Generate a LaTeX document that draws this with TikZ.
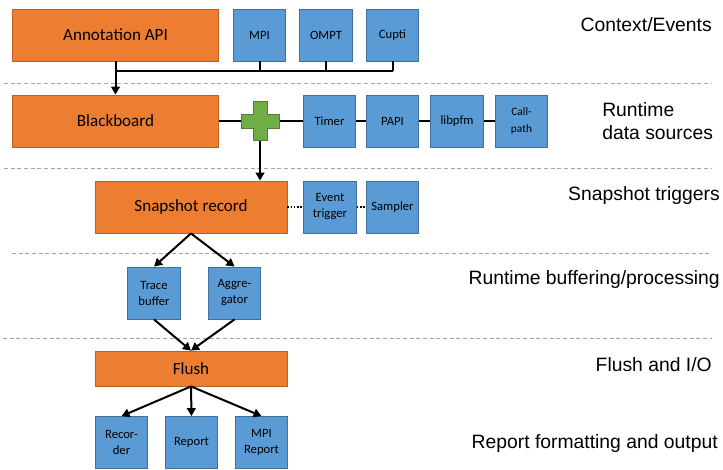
\documentclass[tikz,border=0pt]{standalone}
\usepackage{fontspec}
\setmainfont{Carlito}
\newfontfamily\labelfont{Liberation Sans}
\usetikzlibrary{arrows.meta,positioning}
\definecolor{BoxOrange}{RGB}{237,125,49}
\definecolor{OrangeEdge}{RGB}{190,95,35}
\definecolor{BoxBlue}{RGB}{91,155,213}
\definecolor{BlueEdge}{RGB}{65,113,156}
\definecolor{PlusGreen}{RGB}{112,173,71}
\definecolor{PlusEdge}{RGB}{80,126,50}
\definecolor{SepGray}{RGB}{165,165,165}

\tikzset{
  mainbox/.style={draw=OrangeEdge, fill=BoxOrange, line width=0.6pt, minimum width=155pt,
    minimum height=39pt, inner sep=0pt, font=\fontsize{12.8}{15}\selectfont},
  srcbox/.style={draw=BlueEdge, fill=BoxBlue, line width=0.6pt, minimum width=39.5pt,
    minimum height=39pt, inner sep=0pt, align=center, font=\fontsize{9.5}{12}\selectfont},
  conn/.style={line width=1.5pt},
  arr/.style={conn, -{Triangle[length=6pt,width=6.5pt]}},
  sep/.style={SepGray, line width=0.6pt, dash pattern=on 3pt off 2pt},
  layer/.style={font=\labelfont\fontsize{14.5}{17.5}\selectfont, inner sep=0pt, align=left},
}

\begin{document}
\begin{tikzpicture}[x=0.75pt, y=-0.75pt]
  \useasboundingbox (0,0) rectangle (723,469);

  % layer separators
  \draw[sep] (4,83) -- (712,83);
  \draw[sep] (4,168) -- (712,168);
  \draw[sep] (12,253) -- (710,253);
  \draw[sep] (3,338) -- (712,338);

  % context / events
  \node[mainbox] (ann) at (115.5,35) {Annotation API};
  \node[srcbox] (mpi) at (259.5,35) {MPI};
  \node[srcbox] (ompt) at (326,35) {OMPT};
  \node[srcbox] (cupti) at (392.5,35) {Cupti};

  % runtime data sources
  \node[mainbox] (bb) at (115.5,121) {Blackboard};
  \node[minimum size=29pt, inner sep=0pt] (plus) at (260,121) {};
  \node[srcbox] (timer) at (329.5,121) {Timer};
  \node[srcbox] (papi) at (392.5,121) {PAPI};
  \node[srcbox] (libpfm) at (457,121) {libpfm};
  \node[srcbox, font=\fontsize{8.5}{12.5}\selectfont] (callpath) at (521.5,121) {Call-\\path};

  % snapshot triggers
  \node[mainbox, minimum width=144pt] (snap) at (191,207) {Snapshot record};
  \node[srcbox] (evtrig) at (330,207) {Event\\trigger};
  \node[srcbox] (sampler) at (392.5,207) {Sampler};

  % buffering / processing
  \node[srcbox] (tbuf) at (154,293) {Trace\\buffer};
  \node[srcbox] (aggr) at (234.5,293) {Aggre-\\gator};

  % flush and output
  \node[mainbox, minimum width=144pt, minimum height=26.25pt] (flush) at (191,368.5) {Flush};
  \node[srcbox] (rec) at (121.5,442.5) {Recor-\\der};
  \node[srcbox] (rep) at (191.5,442.5) {Report};
  \node[srcbox] (mpirep) at (261.5,442.5) {MPI\\Report};

  % event bus
  \coordinate (bus) at (0,71);
  \draw[conn] (ann.south |- bus) -- (cupti.south |- bus);
  \foreach \n in {mpi,ompt,cupti}
    \draw[conn] (\n.south) -- (\n.south |- bus);
  \draw[arr] (ann) -- (bb);

  % data source chain
  \draw[conn] (bb.east) -- (timer.west);
  \draw[conn] (timer) -- (papi);
  \draw[conn] (papi) -- (libpfm);
  \draw[conn] (libpfm) -- (callpath);
  \draw[arr] (plus.center) -- (plus |- snap.north);
  \filldraw[fill=PlusGreen, draw=PlusEdge, line width=0.6pt, shift={(plus.center)}]
    (-19,-7) -- (-7,-7) -- (-7,-19.5) -- (7,-19.5) -- (7,-7) -- (19,-7)
    -- (19,7) -- (7,7) -- (7,19.5) -- (-7,19.5) -- (-7,7) -- (-19,7) -- cycle;

  % triggers
  \draw[line width=1.2pt, dash pattern=on 1.2pt off 1.2pt] (snap) -- (evtrig);
  \draw[line width=1.2pt, dash pattern=on 1.2pt off 1.2pt] (evtrig) -- (sampler);

  % record -> buffers -> flush -> reports
  \draw[arr] (snap.south) -- (tbuf.north);
  \draw[arr] (snap.south) -- (aggr.north);
  \draw[arr] (tbuf.south) -- (flush.north);
  \draw[arr] (aggr.south) -- (flush.north);
  \draw[arr] (flush.south) -- (rec.north);
  \draw[arr] (flush.south) -- (rep.north);
  \draw[arr] (flush.south) -- (mpirep.north);

  % layer names
  \node[layer, anchor=east] (lctx) at (712,25) {Context/Events};
  \node[layer, anchor=west] (lsrc) at (602,121) {Runtime\\data sources};
  \node[layer, anchor=east] (ltrig) at (720,195) {Snapshot triggers};
  \node[layer, anchor=east] (lbuf) at (720,279) {Runtime buffering/processing};
  \node[layer, anchor=east] (lio) at (712,365) {Flush and I/O};
  \node[layer, anchor=east] (lout) at (718,443) {Report formatting and output};
\end{tikzpicture}
\end{document}
